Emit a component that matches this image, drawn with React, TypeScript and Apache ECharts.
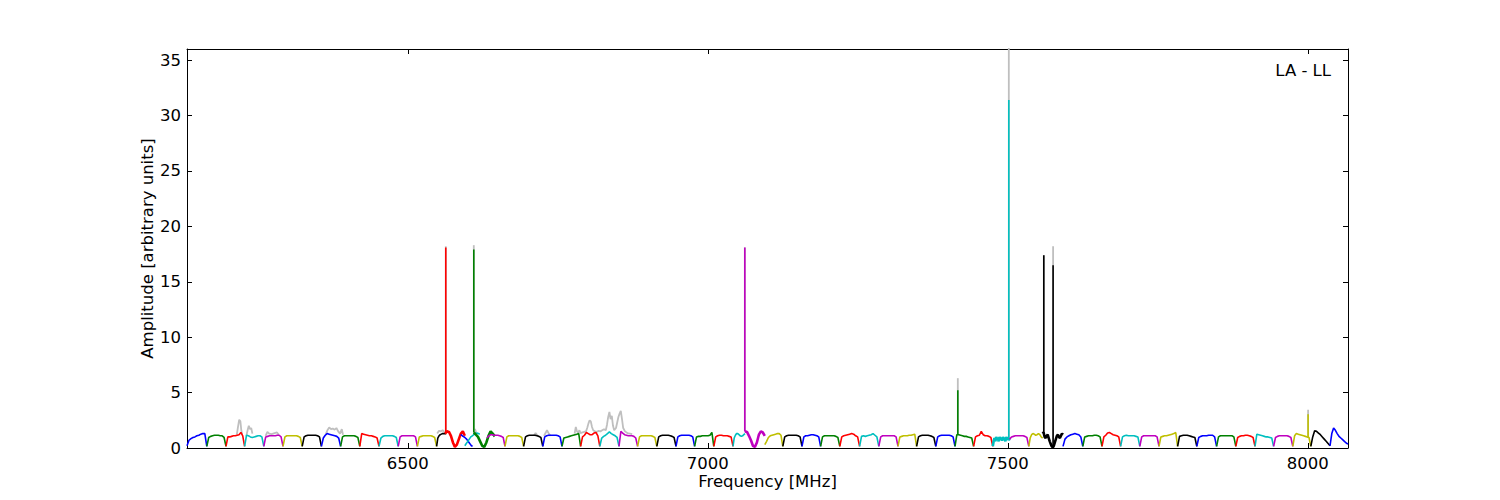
import React, { useEffect, useRef } from "react";
import * as echarts from "echarts";

// matplotlib classic colour cycle: b, g, r, c, m, y, k
const COLORS = ["#0000ff", "#008000", "#ff0000", "#00bfbf", "#bf00bf", "#bfbf00", "#000000"];
const RAW_COLOR = "#bfbfbf";

const xTicks = [6500, 7000, 7500, 8000];
const yTicks = [0, 5, 10, 15, 20, 25, 30, 35];
const xName = "Frequency [MHz]";
const yName = "Amplitude [arbitrary units]";
const panelLabel = "LA - LL";

// Sub-bands (spectral windows): start / end frequency [MHz], colour index, amplitudes (evenly sampled)
const bandStart = [
  6132, 6165, 6197, 6228, 6260, 6292, 6324, 6356, 6388, 6420, 6452, 6484, 6516, 6548,
  6562, 6588, 6595, 6610, 6632, 6662, 6693, 6725, 6757, 6788, 6820, 6852, 6883, 6915,
  6947, 6978, 7010, 7042, 7062, 7095, 7125, 7157, 7188, 7220, 7253, 7285, 7317, 7348,
  7380, 7412, 7443, 7475, 7503, 7535, 7558, 7592, 7625, 7657, 7688, 7720, 7752, 7783,
  7815, 7848, 7880, 7912, 7943, 7975, 8005, 8037,
];
const bandEnd = [
  6165, 6197, 6228, 6260, 6292, 6324, 6356, 6388, 6420, 6452, 6484, 6516, 6548, 6564,
  6595, 6608, 6620, 6645, 6662, 6693, 6725, 6757, 6788, 6820, 6852, 6883, 6915, 6947,
  6978, 7010, 7042, 7062, 7095, 7125, 7157, 7188, 7220, 7253, 7285, 7317, 7348, 7380,
  7412, 7443, 7475, 7503, 7535, 7558, 7592, 7625, 7657, 7688, 7720, 7752, 7783, 7815,
  7848, 7880, 7912, 7943, 7975, 8005, 8037, 8067,
];
const bandColor = [
  0, 1, 2, 3, 4, 5, 6, 0, 1, 2, 3, 4, 5, 6,
  2, 0, 3, 1, 4, 5, 6, 0, 1, 2, 3, 4, 5, 6,
  0, 1, 2, 3, 4, 5, 6, 0, 1, 2, 3, 4, 5, 6,
  0, 1, 2, 3, 4, 5, 6, 0, 1, 2, 3, 4, 5, 6,
  0, 1, 2, 3, 4, 5, 6, 0,
];
const bandValues = [
  [0.2, 0.7, 0.85, 0.95, 1.0, 1.1, 1.15, 1.25, 1.3, 1.3, 0.15],
  [0.15, 0.95, 1.05, 1.1, 1.15, 1.15, 1.15, 1.1, 1.1, 0.95, 0.15],
  [0.15, 1.0, 1.0, 1.05, 1.1, 1.1, 1.15, 1.2, 1.4, 1.1, 0.15],
  [0.15, 1.15, 1.1, 1.0, 0.95, 1.0, 1.05, 1.1, 1.1, 1.0, 0.15],
  [0.15, 1.0, 1.05, 1.1, 1.1, 1.1, 1.1, 1.15, 1.15, 1.0, 0.15],
  [0.15, 1.0, 1.1, 1.1, 1.1, 1.1, 1.1, 1.1, 1.05, 0.95, 0.15],
  [0.15, 1.0, 1.1, 1.15, 1.15, 1.15, 1.15, 1.15, 1.1, 1.0, 0.15],
  [0.15, 0.9, 1.15, 1.3, 1.25, 1.2, 1.15, 1.1, 1.05, 0.9, 0.15],
  [0.15, 1.0, 1.1, 1.1, 1.1, 1.1, 1.1, 1.1, 1.05, 0.95, 0.15],
  [0.15, 1.3, 1.25, 1.2, 1.15, 1.1, 1.1, 1.05, 1.0, 0.9, 0.15],
  [0.15, 0.9, 1.05, 1.1, 1.1, 1.1, 1.1, 1.1, 1.05, 0.95, 0.15],
  [0.15, 1.0, 1.1, 1.1, 1.1, 1.1, 1.1, 1.1, 1.1, 1.0, 0.15],
  [0.15, 1.0, 1.05, 1.1, 1.1, 1.1, 1.1, 1.1, 1.05, 0.95, 0.15],
  [0.15, 0.9, 1.1, 1.2, 1.25, 1.3, 1.3, 1.3, 1.3],
  [1.3, 1.5, 1.45, 1.1, 0.5, 0.1, 0.3, 0.8, 1.3, 1.5, 1.1],
  [1.2, 1.15, 1.05, 1.0, 0.9, 0.8, 0.65, 0.5, 0.35, 0.2, 0.15],
  [0.2, 0.4, 0.6, 0.8, 1.0, 1.1, 1.2, 1.3, 1.35, 1.3, 1.25],
  [1.4, 1.2, 1.0, 0.6, 0.2, 0.1, 0.5, 1.1, 1.5, 1.3, 1.05],
  [0.9, 1.1, 1.2, 1.2, 1.15, 1.15, 1.15, 1.1, 1.05, 0.95, 0.15],
  [0.15, 1.0, 1.1, 1.1, 1.1, 1.1, 1.1, 1.1, 1.05, 0.95, 0.15],
  [0.15, 1.0, 1.1, 1.15, 1.15, 1.15, 1.15, 1.1, 1.05, 0.95, 0.15],
  [0.15, 1.0, 1.1, 1.15, 1.15, 1.15, 1.15, 1.15, 1.1, 1.0, 0.15],
  [0.15, 0.9, 0.95, 1.0, 1.05, 1.1, 1.15, 1.2, 1.25, 1.3, 0.15],
  [0.15, 1.0, 1.15, 1.4, 1.3, 1.2, 1.2, 1.35, 1.4, 1.1, 0.15],
  [0.15, 0.9, 1.05, 1.15, 1.3, 1.45, 1.3, 1.2, 1.1, 0.95, 0.15],
  [0.15, 1.5, 1.35, 1.2, 1.15, 1.1, 1.1, 1.1, 1.05, 0.9, 0.15],
  [0.15, 1.0, 1.1, 1.1, 1.1, 1.1, 1.1, 1.1, 1.05, 0.95, 0.15],
  [0.15, 1.0, 1.1, 1.15, 1.15, 1.15, 1.15, 1.1, 1.05, 0.95, 0.15],
  [0.15, 1.0, 1.1, 1.15, 1.15, 1.15, 1.15, 1.15, 1.1, 1.0, 0.15],
  [0.15, 1.0, 1.05, 1.05, 1.1, 1.1, 1.1, 1.1, 1.15, 1.4, 0.15],
  [0.15, 1.0, 1.1, 1.15, 1.15, 1.1, 1.1, 1.1, 1.05, 1.0, 0.15],
  [0.15, 0.9, 1.15, 1.3, 1.3, 1.2, 1.1, 1.05, 1.1, 1.2, 1.3],
  [1.5, 1.45, 1.1, 0.7, 0.2, 0.1, 0.5, 1.2, 1.5, 1.4, 1.1],
  [0.3, 0.6, 0.95, 1.1, 1.15, 1.2, 1.25, 1.3, 1.3, 1.15, 0.15],
  [0.15, 1.0, 1.1, 1.15, 1.15, 1.15, 1.15, 1.15, 1.1, 1.0, 0.15],
  [0.15, 1.0, 1.1, 1.1, 1.15, 1.2, 1.2, 1.15, 1.1, 1.0, 0.15],
  [0.15, 1.0, 1.1, 1.1, 1.1, 1.1, 1.1, 1.1, 1.05, 0.95, 0.15],
  [0.15, 1.0, 1.1, 1.15, 1.2, 1.25, 1.3, 1.25, 1.1, 1.0, 0.15],
  [0.15, 1.05, 1.1, 1.05, 1.1, 1.15, 1.2, 1.3, 1.15, 1.0, 0.15],
  [0.15, 1.0, 1.1, 1.1, 1.1, 1.1, 1.1, 1.1, 1.1, 1.0, 0.15],
  [0.15, 1.0, 1.05, 1.1, 1.1, 1.1, 1.15, 1.15, 1.2, 1.25, 0.15],
  [0.15, 1.0, 1.1, 1.15, 1.15, 1.15, 1.15, 1.1, 1.05, 0.95, 0.15],
  [0.15, 1.0, 1.1, 1.15, 1.15, 1.15, 1.15, 1.15, 1.1, 1.0, 0.15],
  [0.15, 1.2, 1.2, 1.15, 1.1, 1.05, 1.05, 1.0, 0.95, 0.9, 0.15],
  [0.15, 1.0, 1.1, 1.15, 1.5, 1.2, 1.1, 1.1, 1.05, 0.95, 0.15],
  [0.15, 0.6, 0.9, 0.6, 1.0, 0.7, 0.95, 0.6, 1.0, 0.75, 0.95, 0.65, 1.0, 0.7, 0.95, 0.6, 1.0, 0.75, 0.95, 0.7, 0.9],
  [0.8, 1.0, 1.05, 1.1, 1.1, 1.1, 1.1, 1.1, 1.05, 0.95, 0.15],
  [0.15, 0.9, 1.2, 1.3, 1.25, 1.15, 1.2, 1.3, 1.2, 1.0, 0.9],
  [1.3, 1.4, 1.0, 0.9, 1.1, 1.2, 0.9, 0.6, 0.35, 0.15, 0.05, 0.2, 0.5, 0.8, 1.1, 1.2, 1.0, 0.9, 1.1, 1.3, 1.2],
  [0.15, 0.8, 1.0, 1.1, 1.2, 1.25, 1.3, 1.25, 1.2, 1.0, 0.15],
  [0.15, 1.0, 1.05, 1.1, 1.1, 1.1, 1.15, 1.15, 1.1, 1.0, 0.15],
  [0.15, 1.0, 1.15, 1.35, 1.4, 1.3, 1.2, 1.15, 1.1, 1.0, 0.15],
  [0.15, 1.0, 1.1, 1.15, 1.1, 1.1, 1.1, 1.1, 1.05, 1.0, 0.15],
  [0.15, 1.0, 1.1, 1.1, 1.1, 1.1, 1.1, 1.1, 1.1, 1.0, 0.15],
  [0.15, 1.0, 1.05, 1.1, 1.1, 1.15, 1.2, 1.25, 1.3, 1.4, 0.15],
  [0.15, 1.05, 1.1, 1.15, 1.15, 1.15, 1.1, 1.05, 1.0, 0.95, 0.15],
  [0.15, 0.95, 1.05, 1.1, 1.1, 1.1, 1.15, 1.15, 1.15, 1.0, 0.15],
  [0.15, 1.0, 1.1, 1.1, 1.1, 1.1, 1.1, 1.1, 1.1, 1.0, 0.15],
  [0.15, 0.95, 1.05, 1.1, 1.1, 1.15, 1.15, 1.1, 1.05, 0.95, 0.15],
  [0.15, 1.25, 1.2, 1.15, 1.1, 1.05, 1.0, 1.0, 0.95, 0.9, 0.15],
  [0.15, 0.95, 1.05, 1.1, 1.1, 1.1, 1.1, 1.1, 1.05, 0.95, 0.15],
  [0.15, 1.1, 1.3, 1.25, 1.2, 1.15, 1.1, 1.05, 1.0, 0.95, 0.15],
  [0.15, 1.0, 1.55, 1.5, 1.35, 1.2, 1.0, 0.8, 0.6, 0.4, 0.2],
  [0.2, 1.3, 1.8, 1.6, 1.3, 1.05, 0.9, 0.75, 0.6, 0.45, 0.35],
];
// Sub-bands drawn with a heavier stroke (dense, noisy channels)
const heavyBands = [14, 17, 32, 45, 48];

// Narrow RFI / line spikes
const spikeFreq = [6563.3, 6610, 7061.7, 7416.7, 7501.7, 7560, 7575.5, 8000.5];
const spikeTop = [18.1, 17.9, 18.1, 5.2, 31.4, 17.4, 16.5, 3.05];
const spikeRawTop = [18.2, 18.3, 18.1, 6.3, 37, 17.4, 18.2, 3.45];
const spikeBase = [1.4, 1.4, 1.5, 1.2, 0.9, 1.3, 0.1, 0.95];
const spikeColor = [2, 1, 4, 1, 3, 6, 6, 5];

// Raw (unflagged) data visible above the coloured curves: [freq, amplitude] runs
const rawRuns: number[][][] = [
  [[6215, 1.2], [6217, 1.9], [6219, 2.55], [6221, 2.4], [6222.5, 1.6], [6224, 1.2]],
  [[6231, 1.1], [6233, 1.6], [6235, 2.0], [6237, 1.7], [6239, 1.8], [6241, 1.3]],
  [[6263, 1.1], [6266, 1.45], [6269, 1.3], [6273, 1.25], [6278, 1.35], [6282, 1.4], [6285, 1.2]],
  [[6363, 1.2], [6366, 1.6], [6369, 1.85], [6372, 1.7], [6375, 1.75], [6378, 1.65], [6381, 1.8], [6384, 1.5], [6387, 1.3], [6390, 1.7], [6392, 1.2]],
  [[6549, 1.3], [6552, 1.55], [6555, 1.5], [6558, 1.6], [6561, 1.45]],
  [[6610, 1.5], [6612, 1.7], [6614, 1.4]],
  [[6710, 1.1], [6713, 1.35], [6716, 1.15]],
  [[6727, 1.1], [6730, 1.4], [6732, 1.6], [6735, 1.3], [6738, 1.1]],
  [[6778, 1.3], [6780, 1.9], [6782, 1.5], [6784, 1.4], [6786, 1.6], [6788, 1.35], [6791, 1.4], [6794, 1.45], [6797, 1.5],
   [6799, 1.8], [6801, 2.2], [6803, 2.5], [6805, 2.4], [6807, 1.9], [6809, 1.6], [6812, 1.5], [6815, 1.45], [6818, 1.55],
   [6821, 1.5], [6824, 1.6], [6827, 1.7], [6830, 1.6], [6832, 2.1], [6834, 2.8], [6836, 3.25], [6838, 2.6], [6840, 2.9],
   [6842, 2.0], [6844, 1.6], [6847, 1.8], [6849, 2.3], [6851, 2.8], [6853, 3.1], [6855, 3.35], [6857, 2.6], [6859, 1.8],
   [6862, 1.5], [6866, 1.35], [6870, 1.3], [6874, 1.25]],
];

function lineSeries(data: number[][], color: string, width = 1.6) {
  return {
    type: "line",
    data,
    xAxisIndex: 0,
    yAxisIndex: 0,
    showSymbol: false,
    symbol: "none",
    silent: true,
    clip: true,
    lineStyle: { color, width },
  };
}

export default function App() {
  const ref = useRef<HTMLDivElement>(null);
  useEffect(() => {
    if (!ref.current) return;
    const chart = echarts.init(ref.current, null, { renderer: "svg" });
    const series: any[] = [];
    rawRuns.forEach((run) => series.push(lineSeries(run, RAW_COLOR, 1.8)));
    spikeFreq.forEach((f, i) =>
      series.push(lineSeries([[f, spikeBase[i]], [f, spikeRawTop[i]]], RAW_COLOR, 1.8))
    );
    bandStart.forEach((s, i) => {
      const vals = bandValues[i];
      const e = bandEnd[i];
      const n = vals.length;
      const data = vals.map((v, k) => [s + ((e - s) * k) / (n - 1), v]);
      series.push(lineSeries(data, COLORS[bandColor[i]], heavyBands.includes(i) ? 2.6 : 1.6));
    });
    spikeFreq.forEach((f, i) =>
      series.push(lineSeries([[f, spikeBase[i]], [f, spikeTop[i]]], COLORS[spikeColor[i]], 1.6))
    );

    const font = "DejaVu Sans";
    const fs = 16.5;
    const xMin = 6132;
    const xMax = 8067;
    const yMin = 0;
    const yMax = 36;
    const tickStyle = { show: true, inside: true, length: 5, lineStyle: { color: "#000", width: 1 } };
    const lineStyle = { show: true, onZero: false, lineStyle: { color: "#000", width: 1 } };

    chart.setOption({
      animation: false,
      backgroundColor: "#ffffff",
      grid: { left: 187, right: 152, top: 49, bottom: 52, containLabel: false },
      xAxis: [
        {
          type: "value",
          min: xMin,
          max: xMax,
          position: "bottom",
          axisLine: lineStyle,
          axisTick: { ...tickStyle, customValues: xTicks },
          axisLabel: {
            customValues: xTicks,
            formatter: (v: number) => String(v),
            color: "#000",
            fontFamily: font,
            fontSize: fs,
            margin: 7,
          },
          splitLine: { show: false },
          name: xName,
          nameLocation: "middle",
          nameGap: 25,
          nameMoveOverlap: false,
          nameTextStyle: { color: "#000", fontFamily: font, fontSize: fs },
        },
        {
          type: "value",
          min: xMin,
          max: xMax,
          position: "top",
          axisLine: lineStyle,
          axisTick: { ...tickStyle, customValues: xTicks },
          axisLabel: { show: false },
          splitLine: { show: false },
        },
      ],
      yAxis: [
        {
          type: "value",
          min: yMin,
          max: yMax,
          position: "left",
          axisLine: lineStyle,
          axisTick: { ...tickStyle, customValues: yTicks },
          axisLabel: {
            customValues: yTicks,
            formatter: (v: number) => String(v),
            color: "#000",
            fontFamily: font,
            fontSize: fs,
            margin: 6,
          },
          splitLine: { show: false },
          name: yName,
          nameLocation: "middle",
          nameGap: 31,
          nameRotate: 90,
          nameMoveOverlap: false,
          nameTextStyle: { color: "#000", fontFamily: font, fontSize: fs },
        },
        {
          type: "value",
          min: yMin,
          max: yMax,
          position: "right",
          axisLine: lineStyle,
          axisTick: { ...tickStyle, customValues: yTicks },
          axisLabel: { show: false },
          splitLine: { show: false },
        },
      ],
      graphic: [
        {
          type: "text",
          right: 169,
          top: 62,
          style: { text: panelLabel, fill: "#000", font: `${fs}px '${font}'` },
        },
      ],
      series,
    });
    return () => chart.dispose();
  }, []);
  return (
    <div
      ref={ref}
      style={{ position: "absolute", left: 0, top: 0, width: 1500, height: 500 }}
    />
  );
}
